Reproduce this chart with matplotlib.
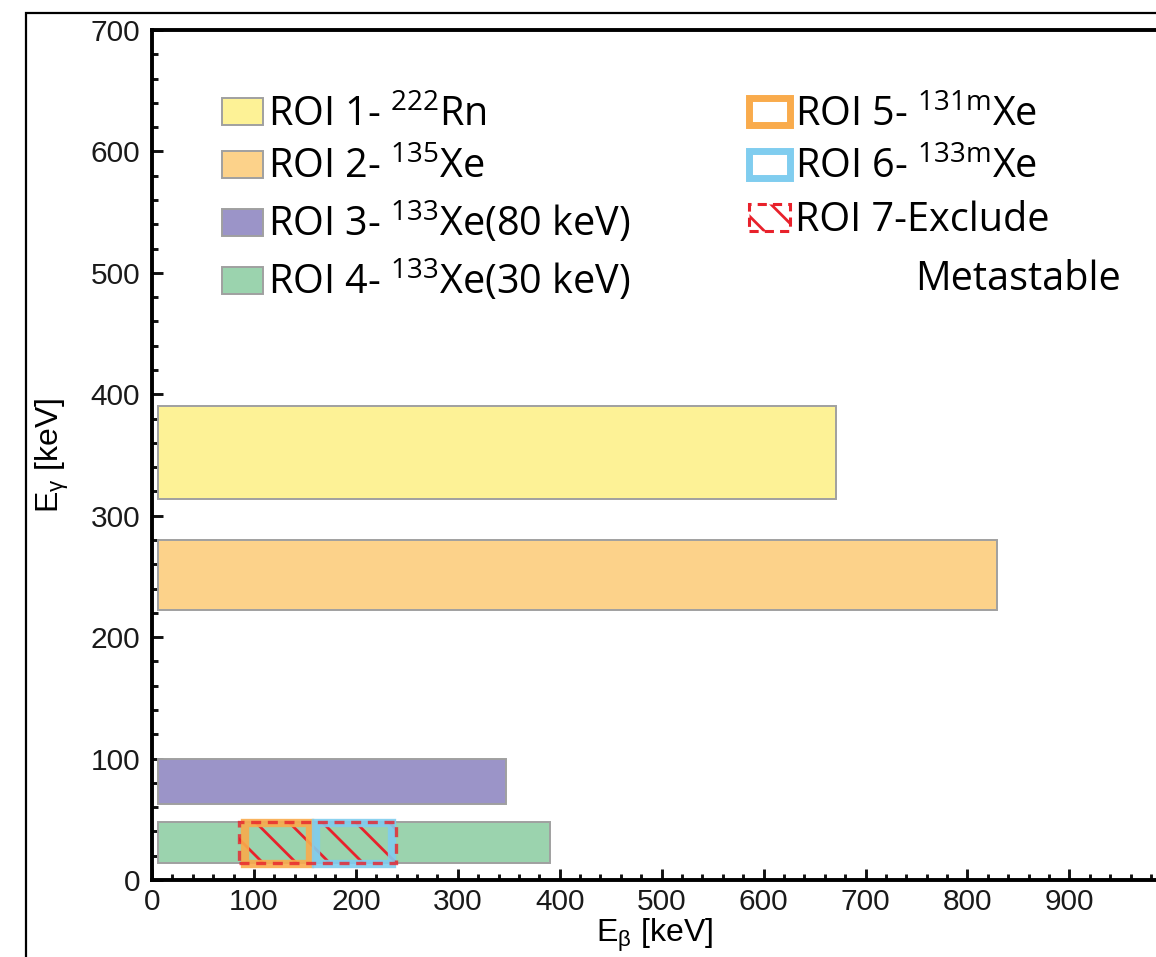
import numpy as np
import matplotlib
import matplotlib.pyplot as plt
from matplotlib.patches import Patch, Rectangle
from matplotlib.ticker import MultipleLocator

matplotlib.use('Agg')

# ROI boxes: beta energy range (x) and gamma energy range (y), keV
roi_labels = ['ROI 1- $^{\\mathregular{222}}$Rn',
              'ROI 2- $^{\\mathregular{135}}$Xe',
              'ROI 3- $^{\\mathregular{133}}$Xe(80 keV)',
              'ROI 4- $^{\\mathregular{133}}$Xe(30 keV)',
              'ROI 5- $^{\\mathregular{131m}}$Xe',
              'ROI 6- $^{\\mathregular{133m}}$Xe',
              'ROI 7-Exclude']
x_lo = [6, 6, 6, 6, 91, 161, 85]
x_hi = [671, 829, 347, 390, 155, 235, 239]
y_lo = [314, 222, 63, 14, 13, 13, 14]
y_hi = [390, 280, 100, 48, 47, 47, 48]

x_ticks = [0, 100, 200, 300, 400, 500, 600, 700, 800, 900]
y_ticks = [0, 100, 200, 300, 400, 500, 600, 700]

fill_cols = ['#fdf296', '#fcd28a', '#9b94c8', '#9bd3ae']
edge_cols = ['#f9ab4c', '#80cdef']
red = '#e8212b'

W, H = 1156, 957
fig = plt.figure(figsize=(W / 100, H / 100), dpi=100)
ax = fig.add_axes([152 / W, 77 / H, 1004 / W, 850 / H])

# filled ROIs 1-4
for i in range(4):
    ax.bar(x_lo[i], y_hi[i] - y_lo[i], width=x_hi[i] - x_lo[i], bottom=y_lo[i],
           align='edge', color=fill_cols[i], edgecolor='#a0a0a0', linewidth=1.4, zorder=2)

plt.rcParams['hatch.linewidth'] = 2.0
# ROI 7 hatching (under the outlines)
ax.bar(x_lo[6], y_hi[6] - y_lo[6], width=x_hi[6] - x_lo[6], bottom=y_lo[6],
       align='edge', color='none', edgecolor=red, linewidth=0, hatch='\\', zorder=3)

# outlined ROIs 5-6
for i in (4, 5):
    ax.bar(x_lo[i], y_hi[i] - y_lo[i], width=x_hi[i] - x_lo[i], bottom=y_lo[i],
           align='edge', color='none', edgecolor=edge_cols[i - 4], linewidth=6, alpha=0.9, zorder=4)

# ROI 7 dashed outline
ax.bar(x_lo[6], y_hi[6] - y_lo[6], width=x_hi[6] - x_lo[6], bottom=y_lo[6],
       align='edge', color='none', edgecolor=red, linewidth=2.4, linestyle=(0, (3, 2)),
       alpha=0.8, zorder=5)

ax.set_xlim(0, 985)
ax.set_ylim(0, 700)
ax.set_xticks(x_ticks)
ax.set_yticks(y_ticks)
ax.xaxis.set_minor_locator(MultipleLocator(20))
ax.yaxis.set_minor_locator(MultipleLocator(20))
ax.tick_params(which='both', direction='in', width=2.1, colors='#111111')
ax.tick_params(which='major', length=8)
ax.tick_params(which='minor', length=4.5)
ax.tick_params(axis='y', which='major', pad=8.5)
ax.tick_params(axis='x', which='major', pad=6)
for lab in ax.get_xticklabels() + ax.get_yticklabels():
    lab.set_fontfamily('Liberation Sans')
    lab.set_fontsize(21.5)
    lab.set_color('#1a1a1a')

ax.spines['right'].set_visible(False)
for s in ('left', 'bottom', 'top'):
    ax.spines[s].set_linewidth(2.8)

ax.set_xlabel('E$_{\\mathregular{β}}$ [keV]', fontfamily='Liberation Sans', fontsize=23, labelpad=0)
ax.set_ylabel('E$_{\\mathregular{γ}}$ [keV]', fontfamily='Liberation Sans', fontsize=23, labelpad=14)

# legends
leg_font = {'family': 'Open Sans', 'size': 28.5}
h_left = [Patch(facecolor=fill_cols[i], edgecolor='#a0a0a0', linewidth=1.4) for i in range(4)]
h_right = [Patch(facecolor='white', edgecolor=edge_cols[0], linewidth=5),
           Patch(facecolor='white', edgecolor=edge_cols[1], linewidth=5),
           Patch(facecolor='none', edgecolor=red, linewidth=2.2, linestyle=(0, (3, 2)), hatch='\\')]
kw = dict(frameon=False, loc='upper left', prop=leg_font, handlelength=1.03, handleheight=0.68,
          handletextpad=0.13, labelspacing=0.31, borderpad=0, borderaxespad=0)
leg1 = ax.legend(h_left, roi_labels[:4], bbox_to_anchor=(222 / W, 1 - 95 / H),
                 bbox_transform=fig.transFigure, **kw)
ax.add_artist(leg1)
ax.legend(h_right, roi_labels[4:], bbox_to_anchor=(749 / W, 1 - 95 / H),
          bbox_transform=fig.transFigure, **kw)
fig.text(915 / W, 1 - 280 / H, 'Metastable', fontfamily='Open Sans', fontsize=28.5, va='center', ha='left')

# outer frame
fig.add_artist(Rectangle((26 / W, -0.1), 1.2, 1.1 - 13 / H, transform=fig.transFigure,
                         fill=False, edgecolor='black', linewidth=1.6))

plt.savefig('out.png', dpi=100)
plt.close()
